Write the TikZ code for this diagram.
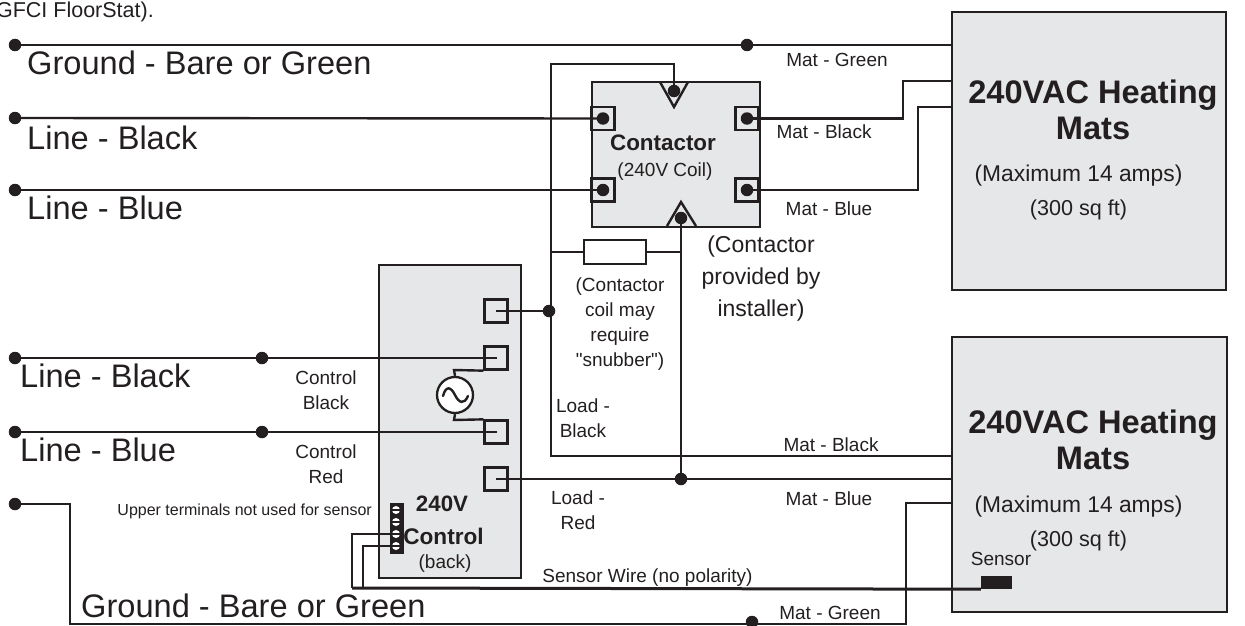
\documentclass[tikz,border=0pt]{standalone}
\usepackage{fontspec}
\setmainfont{Liberation Sans}
\newfontfamily\plainq{Liberation Sans}
\definecolor{ink}{HTML}{231F20}
\definecolor{panel}{HTML}{E6E7E8}
\newcommand{\fs}[2]{\fontsize{#1}{#2}\selectfont}
\tikzset{
  wire/.style={draw=ink,line width=2.4pt,line join=miter},
  thick wire/.style={draw=ink,line width=3pt},
  panelbox/.style={draw=ink,fill=panel,line width=2.3pt,rectangle,inner sep=0pt,anchor=north west},
  term/.style={draw=ink,line width=2.3pt,rectangle,inner sep=0pt,minimum size=23pt},
  dot/.style={circle,fill=ink,inner sep=0pt,minimum size=12.5pt},
  lab/.style={text=ink,inner sep=0pt,align=center,font=\fs{19}{25}},
  bigtxt/.style={text=ink,inner sep=0pt,anchor=west,font=\fs{32.6}{36}},
  smalltxt/.style={text=ink,inner sep=0pt,align=center,font=\fs{19}{25}},
  mid/.style={text=ink,inner sep=0pt,align=center,font=\fs{22.8}{34}},
  head/.style={text=ink,inner sep=0pt,align=center,font=\fs{32.6}{36.5}\bfseries},
}
\begin{document}
\begin{tikzpicture}[x=1pt,y=-1pt]
\useasboundingbox (0,0) rectangle (1245,626);
% main panels
\node[panelbox,minimum width=274pt,minimum height=278pt] (matA) at (951,11) {};
\node[panelbox,minimum width=275pt,minimum height=275pt] (matB) at (951,336) {};
\node[panelbox,minimum width=168pt,minimum height=145pt] (cont) at (591,81) {};
\node[panelbox,minimum width=142pt,minimum height=313pt] (ctrl) at (378,264) {};
% contactor terminals
\node[term] (tLT) at (603,118.5) {};
\node[term] (tLB) at (603,190) {};
\node[term] (tRT) at (747,118.5) {};
\node[term] (tRB) at (747,190) {};
\draw[wire] (660,82) -- (674,107) -- (688,82);
\draw[wire] (667,226) -- (681,202) -- (696,226);
% control terminals
\node[term] (c1) at (496,311) {};
\node[term] (c2) at (496,358) {};
\node[term] (c3) at (496,432) {};
\node[term] (c4) at (496,479) {};
\coordinate (c1w) at (496,311);
\coordinate (c2w) at (497,358);
\coordinate (c3w) at (497,432);
\coordinate (c4w) at (496,479);
% dots
\node[dot] (dTL) at (603,118.5) {};
\node[dot] (dBL) at (603,190) {};
\node[dot] (dTR) at (747,118.5) {};
\node[dot] (dBR) at (747,190) {};
\node[dot] (dTop) at (674,91) {};
\node[dot] (dBot) at (681,218) {};
\node[dot] (g1) at (15,45) {};
\node[dot] (l1) at (15,118) {};
\node[dot] (l2) at (15,190) {};
\node[dot] (l3) at (15,358) {};
\node[dot] (l4) at (15,432) {};
\node[dot] (g2) at (15,504) {};
\node[dot] (gm) at (747,45) {};
\node[dot] (lm3) at (262,358) {};
\node[dot] (lm4) at (262,432) {};
\node[dot] (j1) at (549,311) {};
\node[dot] (j2) at (681,479) {};
\node[dot] (gb) at (752,622) {};
% top-left wires
\draw[wire] (g1.center) -- (gm.center) -- (matA.west |- gm.center);
\draw[wire] (l1.center) -- (dTL.center);
\draw[wire] (l2.center) -- (dBL.center);
\draw[wire] (l3.center) -- (lm3.center) -- (c2w);
\draw[wire] (l4.center) -- (lm4.center) -- (c3w);
% contactor to mat A
\coordinate (matAb) at (951,81);
\coordinate (matAu) at (951,107);
\draw[wire] (dTR.center) -- (903,118.5) -- (903,81) -- (matAb);
\draw[wire] (dBR.center) -- (918,190) -- (918,107) -- (matAu);
% coil feeds
\coordinate (matBk) at (951,456);
\coordinate (matBu) at (951,479);
\draw[wire] (dTop.center) -- (674,64) -- (551,64) -- (551,456) -- (matBk);
\draw[wire] (dBot.center) -- (j2.center);
\draw[wire] (c4w) -- (j2.center) -- (matBu);
\draw[wire] (c1w) -- (j1.center) -- (551,311);
% snubber
\node[draw=ink,fill=white,line width=2.3pt,inner sep=0pt,minimum width=62pt,minimum height=24pt] (snub) at (615,252) {};
\draw[wire] (551,252) -- (snub.west);
\draw[wire] (snub.east) -- (681,252);
% ac source
\node[draw=ink,fill=white,line width=2.3pt,circle,inner sep=0pt,minimum size=36pt] (ac) at (455,395) {};
\draw[wire] (ac.north) -- (454,370) -- (c2.south west);
\draw[wire] (ac.south) -- (454,420) -- (c3.north west);
\draw[wire,line cap=round] (443,396) .. controls (446,385) and (451,387) .. (455,395) .. controls (459,403) and (464,405) .. (468,396);
% terminal strip
\node[draw=ink,fill=ink,line width=1.2pt,inner sep=0pt,minimum width=13pt,minimum height=50pt,anchor=north west] (strip) at (389.5,503) {};
\foreach \yy/\nm in {510/s1,522/s2,534/s3,546/s4}{
  \node[circle,fill=white,inner sep=0pt,minimum size=8pt] (\nm) at (396,\yy) {};
  \draw[ink,line width=1.2pt] (390,\yy) -- (402,\yy);
}
\draw[wire] (s3.center) -- (352,534) -- (352,588);
\draw[wire] (s4.center) -- (363,546) -- (363,588);
% sensor
\node[fill=ink,inner sep=0pt,minimum width=31pt,minimum height=13pt] (sens) at (996.5,582.5) {};
\draw[thick wire] (352,588) -- (sens.south west);
% bottom ground
\coordinate (matBg) at (951,503);
\draw[wire] (g2.center) -- (70,504) -- (70,624) -- (gb.center |- 0,624) -- (906,624) -- (906,503) -- (matBg);
% big labels
\node[bigtxt] (tG1) at (27,63) {Ground - Bare or Green};
\node[bigtxt] (tL1) at (27,138) {Line - Black};
\node[bigtxt] (tL2) at (27,208) {Line - Blue};
\node[bigtxt] (tL3) at (20,376) {Line - Black};
\node[bigtxt] (tL4) at (20,450) {Line - Blue};
\node[bigtxt] (tG2) at (81,606) {Ground - Bare or Green};
% top clipped text
\node[lab,anchor=east,font=\fs{21.5}{24}] (tTop) at (154,12) {GFCI FloorStat).};
% small labels
\node[lab] (m1) at (837,60) {Mat - Green};
\node[lab] (m2) at (824,132) {Mat - Black};
\node[lab] (m3) at (829,209) {Mat - Blue};
\node[lab] (m4) at (831,445) {Mat - Black};
\node[lab] (m5) at (829,499) {Mat - Blue};
\node[lab] (m6) at (830,613) {Mat - Green};
\node[text=ink,inner sep=0pt,font=\fs{22.4}{26}\bfseries] (tC) at (663,143) {Contactor};
\node[smalltxt] (tC2) at (665,172) {(240V Coil)};
\node[mid,font=\fs{23}{32}] (tP) at (761,279) {(Contactor\\provided by\\installer)};
\node[smalltxt] (tS) at (620,324) {(Contactor\\coil may\\require\\{\plainq"}snubber{\plainq"})};
\node[lab] (tLd1) at (583,418) {Load -\\Black};
\node[lab] (tLd2) at (578,510) {Load -\\Red};
\node[lab] (tCb) at (326,390) {Control\\Black};
\node[lab] (tCr) at (326,464) {Control\\Red};
\node[text=ink,inner sep=0pt,font=\fs{16}{19},anchor=east] (tU) at (372,511) {Upper terminals not used for sensor};
\node[text=ink,inner sep=0pt,font=\fs{22.3}{26}\bfseries] (t240) at (442,504) {240V};
\node[text=ink,inner sep=0pt,font=\fs{22.6}{26}\bfseries] (tCt) at (443.5,536) {Control};
\node[smalltxt] (tBk) at (445,564) {(back)};
\node[smalltxt] (tW) at (647.5,578) {Sensor Wire (no polarity)};
\node[lab] (tSn) at (1001,559) {Sensor};
\node[head] (hA) at (1093,110) {240VAC Heating\\Mats};
\node[head] (hB) at (1093,440) {240VAC Heating\\Mats};
\node[mid] (iA) at (1078.5,176) {(Maximum 14 amps)};
\node[mid,font=\fs{21.6}{30}] (iA2) at (1078.5,210) {(300 sq ft)};
\node[mid] (iB) at (1078.5,507) {(Maximum 14 amps)};
\node[mid,font=\fs{21.6}{30}] (iB2) at (1078.5,541) {(300 sq ft)};
\end{tikzpicture}
\end{document}
